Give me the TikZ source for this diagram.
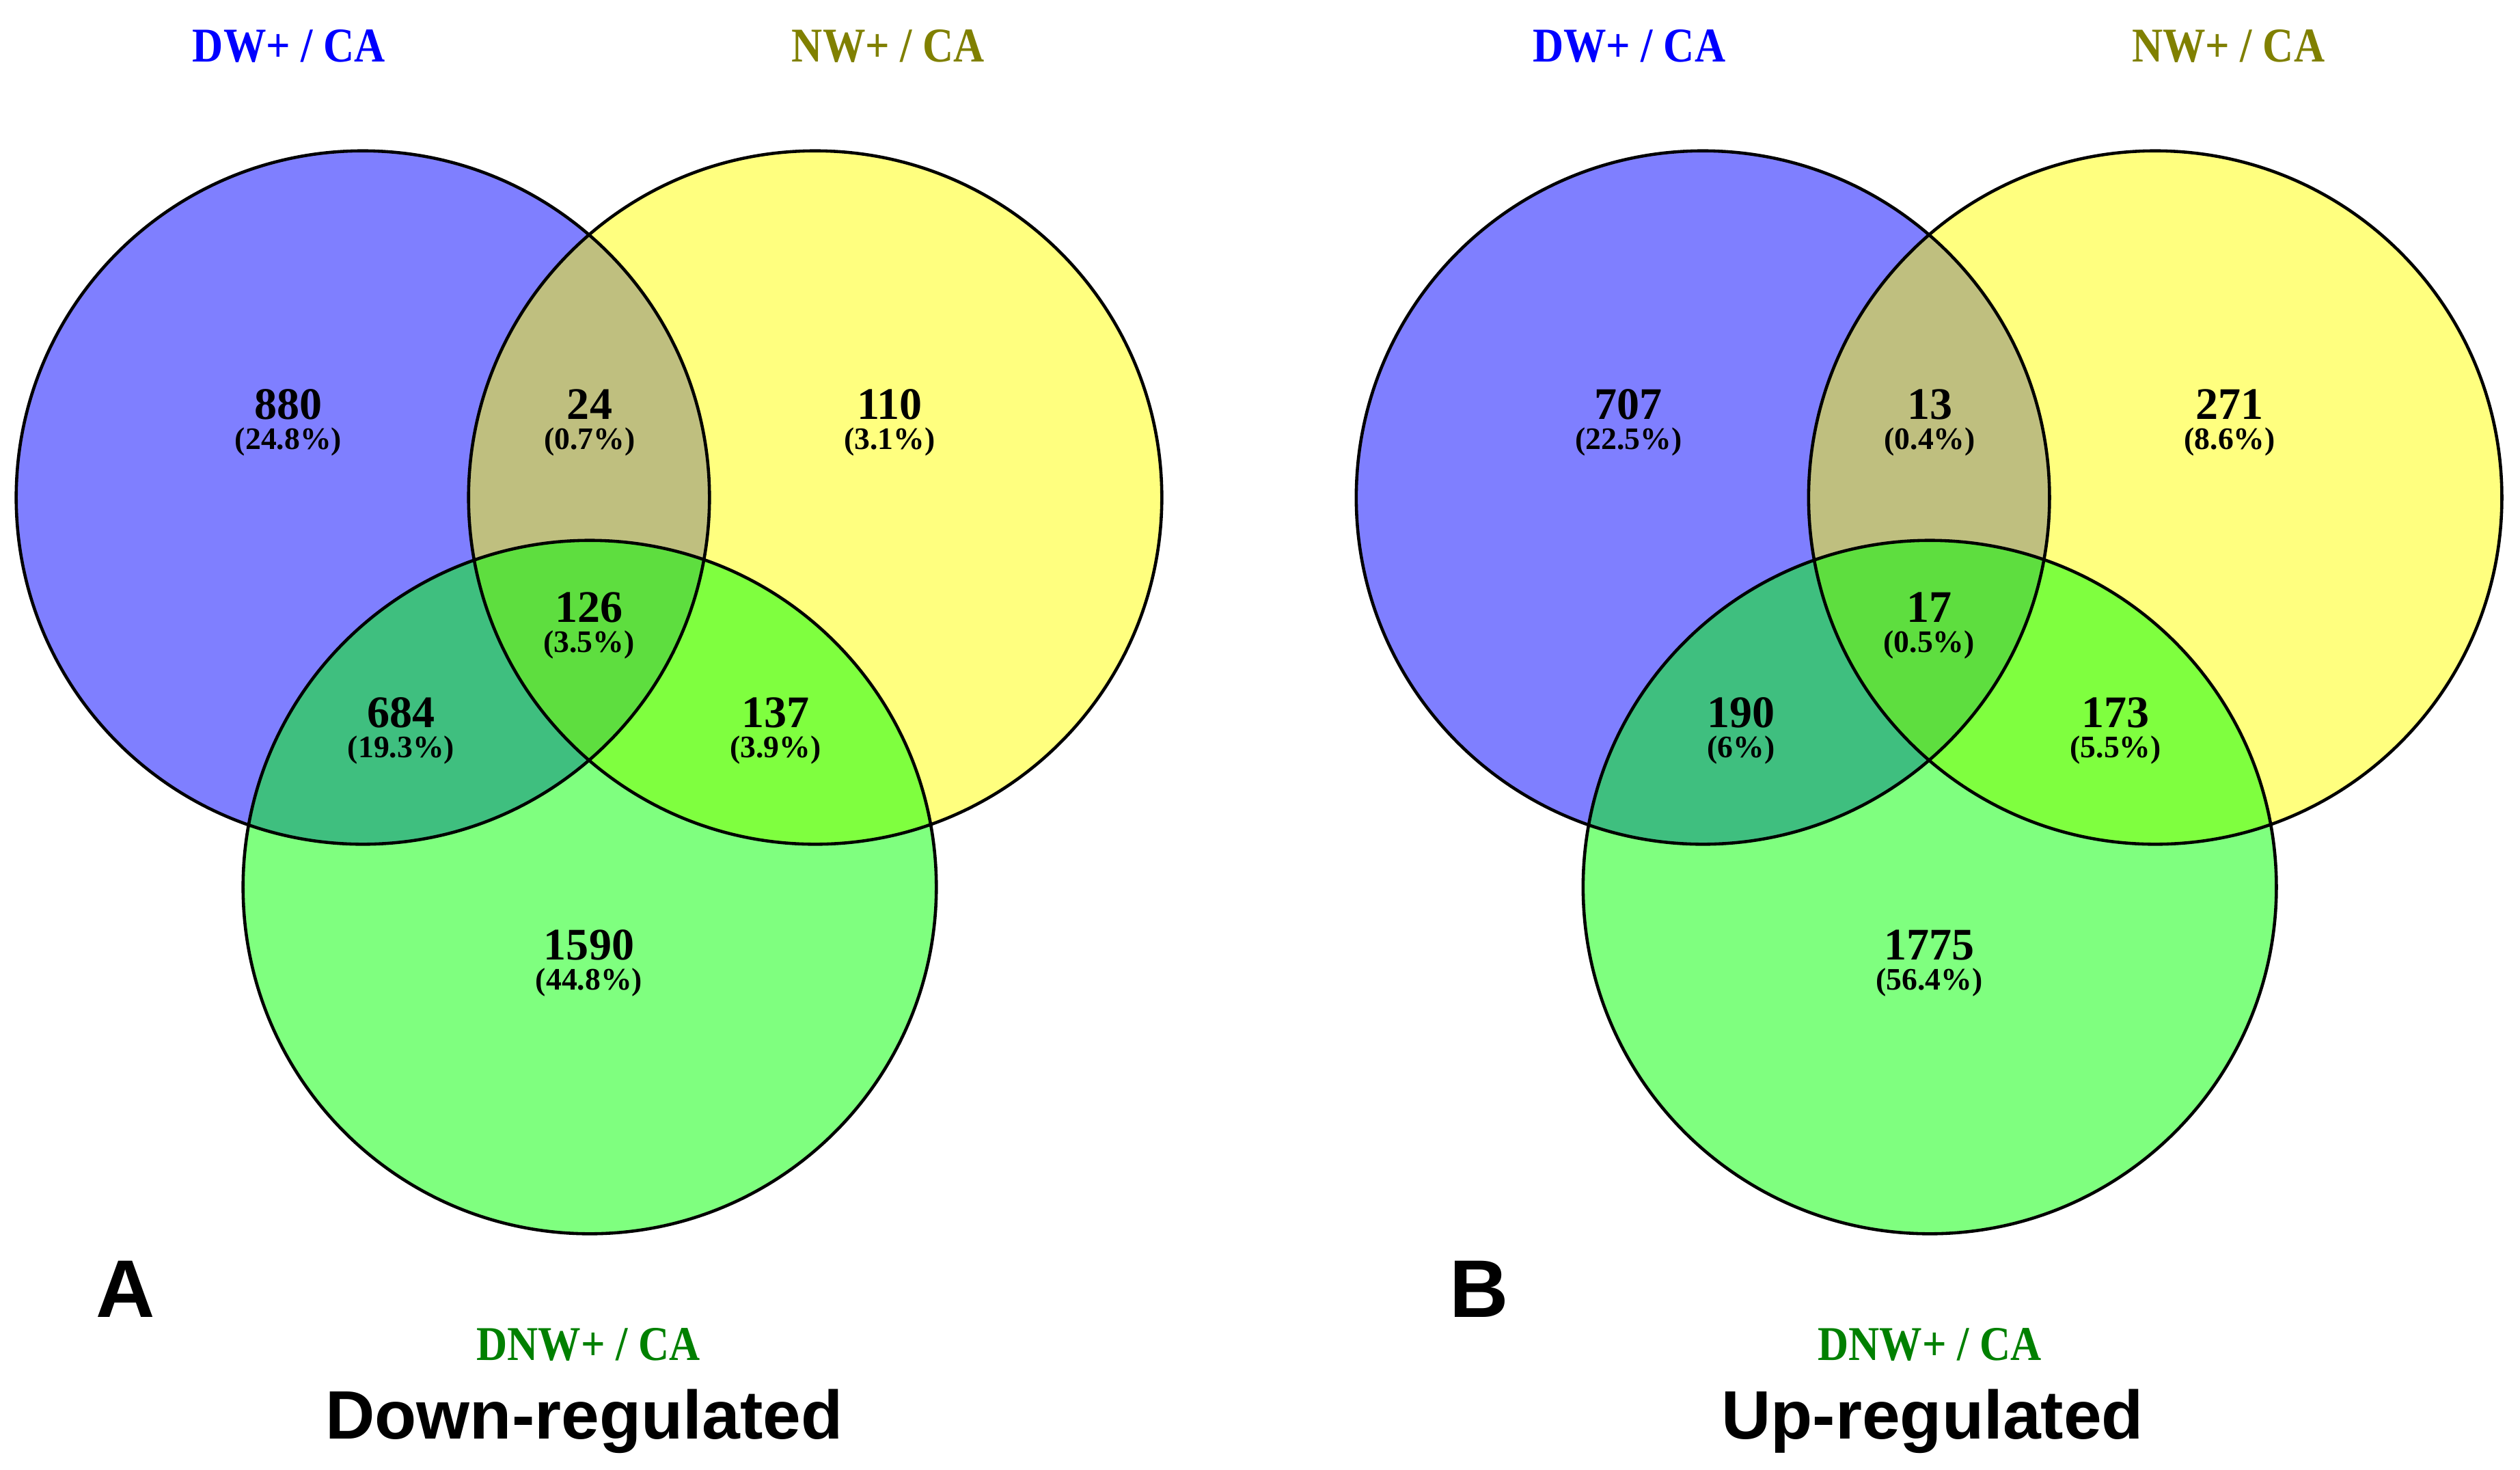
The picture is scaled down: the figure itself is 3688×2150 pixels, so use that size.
\documentclass[tikz,border=0pt]{standalone}
\usepackage{fontspec}
\setmainfont{Liberation Serif}
\newfontfamily\headfont{Liberation Sans}
\usepackage{tikz}

\definecolor{dwfill}{RGB}{0,0,255}
\definecolor{nwfill}{RGB}{255,255,0}
\definecolor{dnwfill}{RGB}{0,255,0}
\definecolor{nwtext}{RGB}{128,128,0}
\definecolor{dnwtext}{RGB}{0,128,0}

\begin{document}
\begin{tikzpicture}[x=0.01cm, y=-0.01cm,
    num/.style={font=\bfseries\fontsize{18.8}{20}\selectfont, inner sep=0pt},
    pct/.style={font=\bfseries\fontsize{13}{14}\selectfont, inner sep=0pt},
    setname/.style={font=\bfseries\fontsize{20.2}{22}\selectfont, xscale=0.88, anchor=base},
    title/.style={font=\headfont\bfseries\fontsize{28.5}{30}\selectfont, anchor=base},
    panel/.style={font=\headfont\bfseries\fontsize{34}{36}\selectfont, anchor=base},
    ring/.style={line width=1.3pt}]
    \useasboundingbox (0,0) rectangle (3688,2150);

    % A: down-regulated
    \begin{scope}
        \coordinate (dwA) at (531, 728);
        \coordinate (nwA) at (1193, 728);
        \coordinate (dnwA) at (863, 1298);
        \fill[dwfill, fill opacity=0.5] (dwA) circle[radius=5.07cm];
        \fill[nwfill, fill opacity=0.5] (nwA) circle[radius=5.07cm];
        \fill[dnwfill, fill opacity=0.5] (dnwA) circle[radius=5.07cm];
        \draw[ring] (dwA) circle[radius=5.07cm] (nwA) circle[radius=5.07cm] (dnwA) circle[radius=5.07cm];

        \node[num] (dwonlyA) at (422, 592) {880};
        \node[pct] at (422, 646) {(24.8\%)};
        \node[num] (dwnwA) at (863, 592) {24};
        \node[pct] at (863, 646) {(0.7\%)};
        \node[num] (nwonlyA) at (1302, 592) {110};
        \node[pct] at (1302, 646) {(3.1\%)};
        \node[num] (allA) at (862, 889) {126};
        \node[pct] at (862, 943) {(3.5\%)};
        \node[num] (dwdnwA) at (587, 1043) {684};
        \node[pct] at (587, 1097) {(19.3\%)};
        \node[num] (nwdnwA) at (1135, 1043) {137};
        \node[pct] at (1135, 1097) {(3.9\%)};
        \node[num] (dnwonlyA) at (862, 1383) {1590};
        \node[pct] at (862, 1437) {(44.8\%)};

        \node[setname, text=dwfill] (dwlblA) at (423, 90) {DW+ / CA};
        \node[setname, text=nwtext] (nwlblA) at (1300, 90) {NW+ / CA};
        \node[setname, text=dnwtext] (dnwlblA) at (861, 1990) {DNW+ / CA};
        \node[panel] (letterA) at (184, 1927) {A};
        \node[title] (titleA) at (855, 2105) {Down-regulated};
    \end{scope}

    % B: up-regulated
    \begin{scope}[xshift=19.6cm]
        \coordinate (dwB) at (531, 728);
        \coordinate (nwB) at (1193, 728);
        \coordinate (dnwB) at (863, 1298);
        \fill[dwfill, fill opacity=0.5] (dwB) circle[radius=5.07cm];
        \fill[nwfill, fill opacity=0.5] (nwB) circle[radius=5.07cm];
        \fill[dnwfill, fill opacity=0.5] (dnwB) circle[radius=5.07cm];
        \draw[ring] (dwB) circle[radius=5.07cm] (nwB) circle[radius=5.07cm] (dnwB) circle[radius=5.07cm];

        \node[num] (dwonlyB) at (422, 592) {707};
        \node[pct] at (422, 646) {(22.5\%)};
        \node[num] (dwnwB) at (863, 592) {13};
        \node[pct] at (863, 646) {(0.4\%)};
        \node[num] (nwonlyB) at (1302, 592) {271};
        \node[pct] at (1302, 646) {(8.6\%)};
        \node[num] (allB) at (862, 889) {17};
        \node[pct] at (862, 943) {(0.5\%)};
        \node[num] (dwdnwB) at (587, 1043) {190};
        \node[pct] at (587, 1097) {(6\%)};
        \node[num] (nwdnwB) at (1135, 1043) {173};
        \node[pct] at (1135, 1097) {(5.5\%)};
        \node[num] (dnwonlyB) at (862, 1383) {1775};
        \node[pct] at (862, 1437) {(56.4\%)};

        \node[setname, text=dwfill] (dwlblB) at (423, 90) {DW+ / CA};
        \node[setname, text=nwtext] (nwlblB) at (1300, 90) {NW+ / CA};
        \node[setname, text=dnwtext] (dnwlblB) at (863, 1990) {DNW+ / CA};
        \node[panel] (letterB) at (204, 1927) {B};
        \node[title] (titleB) at (867, 2105) {Up-regulated};
    \end{scope}
\end{tikzpicture}
\end{document}
